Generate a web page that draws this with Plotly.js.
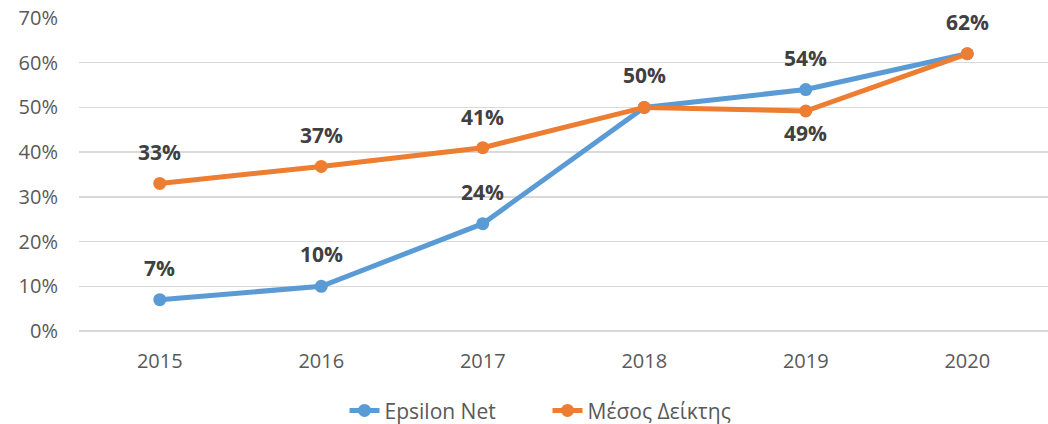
<!DOCTYPE html>
<html><head><meta charset="utf-8">
<script src="https://cdn.plot.ly/plotly-3.0.1.min.js"></script>
<style>body{margin:0;background:#fff}#border{position:absolute;left:0;top:0;width:3px;height:424px;background:#d9d9d9}</style>
</head><body>
<div id="border"></div>
<div id="chart" style="width:1048px;height:424px"></div>
<script>
const years = [2015, 2016, 2017, 2018, 2019, 2020];
const epsilon = [0.07, 0.10, 0.24, 0.50, 0.54, 0.62];
const mesos = [0.33, 0.368, 0.41, 0.50, 0.492, 0.62];
const epsilonLabelShift = [32, 32, 32, 32, 32, 32];
const mesosLabelShift = [31, 31, 31, 32, -22, 32];
const epsilonShow = [true, true, true, false, true, false];
const mesosShow = [true, true, true, true, true, true];

const labelFont = {family:'Open Sans, Noto Sans, sans-serif', size:21, color:'#404040', weight:'bold'};
const annotations = [];
function addLabels(vals, shifts, show){
  vals.forEach((v,i)=>{
    if(!show[i]) return;
    annotations.push({x:years[i], y:v, xref:'x', yref:'y', text:Math.round(v*100)+'%',
      showarrow:false, yshift:shifts[i], font:labelFont});
  });
}
addLabels(epsilon, epsilonLabelShift, epsilonShow);
addLabels(mesos, mesosLabelShift, mesosShow);

const traces = [
  {x:years, y:epsilon, name:'Epsilon Net', type:'scatter', mode:'lines+markers',
   line:{color:'#5B9BD5', width:5}, marker:{color:'#5B9BD5', size:13}},
  {x:years, y:mesos, name:'Μέσος Δείκτης', type:'scatter', mode:'lines+markers',
   line:{color:'#ED7D31', width:5}, marker:{color:'#ED7D31', size:13}}
];
const layout = {
  width:1048, height:424,
  margin:{l:79, r:0, t:18, b:93, autoexpand:false},
  paper_bgcolor:'#fff', plot_bgcolor:'#fff',
  font:{family:'Open Sans, Noto Sans, sans-serif', color:'#595959'},
  xaxis:{type:'linear', range:[2014.5, 2020.5], tickvals:years, ticktext:years.map(String),
    showgrid:false, zeroline:false, showline:false,
    tickfont:{size:20, color:'#595959'}, ticks:'', ticklabelstandoff:16},
  yaxis:{range:[0,0.7], dtick:0.1, tickformat:'.0%', gridcolor:'#d9d9d9', gridwidth:1.5,
    zeroline:true, zerolinecolor:'#d9d9d9', zerolinewidth:1.5, showline:false,
    tickfont:{size:20, color:'#595959'}, ticks:'', ticklabelstandoff:20},
  showlegend:true,
  legend:{orientation:'h', x:0.274, xanchor:'left', y:-0.255, yanchor:'middle',
    entrywidth:158, entrywidthmode:'pixels',
    font:{size:21, color:'#595959'}, traceorder:'normal'},
  annotations:annotations
};
Plotly.newPlot('chart', traces, layout, {displayModeBar:false, staticPlot:true});
</script>
</body></html>
